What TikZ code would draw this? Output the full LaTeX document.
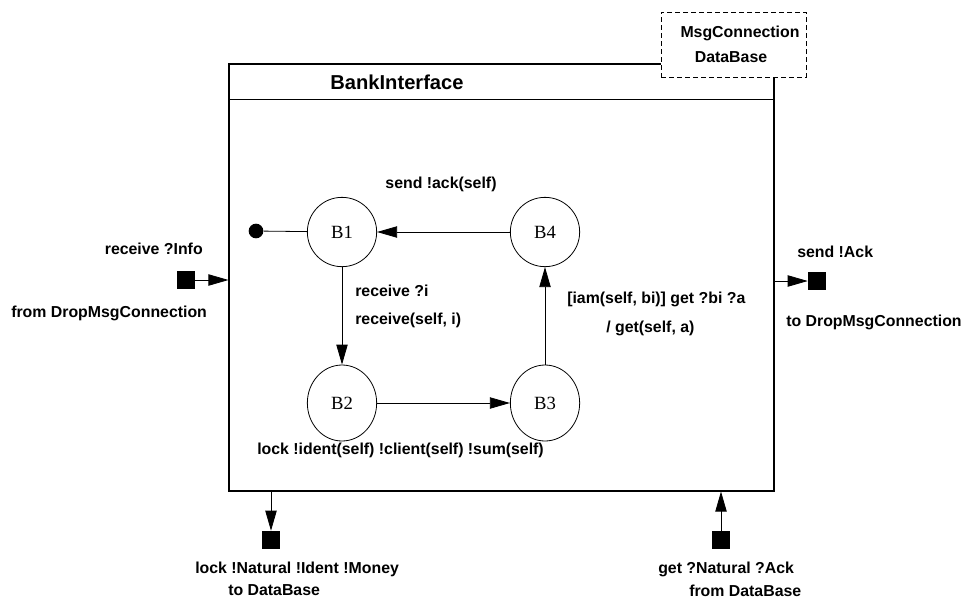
\documentclass[tikz,border=0pt]{standalone}
\usepackage{fontspec}
\setmainfont{Liberation Serif}
\setsansfont{Liberation Sans}
\usepackage{tikz}
\usetikzlibrary{arrows.meta, positioning, shapes.geometric}

\begin{document}
\begin{tikzpicture}[
  x=0.75pt, y=-0.75pt,
  state/.style={ellipse, draw, line width=0.6pt, inner sep=0pt, minimum width=52pt, minimum height=52pt, font=\fontsize{14}{16}\selectfont},
  port/.style={rectangle, fill=black, inner sep=0pt, minimum size=13.5pt},
  lbl/.style={font=\sffamily\bfseries\fontsize{11.9}{14}\selectfont, inner sep=0pt, text height=0.72em, text depth=0pt},
  arrow/.style={-{Triangle[length=15pt, width=8.5pt]}, line width=0.6pt},
  wire/.style={line width=0.6pt}
]
\useasboundingbox (0,0) rectangle (967,604);

% Component box with title bar
\node[draw, line width=0.8pt, inner sep=0pt, minimum width=408.75pt, minimum height=320.25pt] (bank) at (501.5,277.5) {};
\draw[line width=0.8pt] ([yshift=-27pt]bank.north west) -- ([yshift=-27pt]bank.north east);
\node[lbl, font=\sffamily\bfseries\fontsize{15.1}{17}\selectfont] (title) at (397,85) {BankInterface};

% Environment (dashed, covers the corner)
\node[draw, dashed, dash pattern=on 3.5pt off 2.5pt, fill=white, line width=0.6pt, minimum width=108.75pt, minimum height=48.75pt] (env) at (733.5,44.5) {};
\node[lbl] (envA) at (740,33) {MsgConnection};
\node[lbl] (envB) at (731,58) {DataBase};

% States
\node[circle, fill, inner sep=0pt, minimum size=11pt] (init) at (256,231) {};
\node[state] (B1) at (342,232) {B1};
\node[state] (B4) at (545,232) {B4};
\node[state, minimum height=57pt] (B2) at (342,403) {B2};
\node[state, minimum height=57pt] (B3) at (545,403) {B3};

% Transitions
\draw[wire] (init) -- (B1);
\draw[arrow] (B4) -- (B1);
\draw[arrow] (B1) -- (B2);
\draw[arrow] (B2) -- (B3);
\draw[arrow] (B3) -- (B4);

\node[lbl] (tA) at (441,184) {send !ack(self)};
\node[lbl, anchor=west] (tB) at (355,292) {receive ?i};
\node[lbl, anchor=west] (tC) at (355,320) {receive(self, i)};
\node[lbl, anchor=west] (tD) at (567,299) {[iam(self, bi)] get ?bi ?a};
\node[lbl, anchor=west] (tE) at (606,328) {/ get(self, a)};
\node[lbl, anchor=west] (tF) at (257,450) {lock !ident(self) !client(self) !sum(self)};

% Ports
\node[port] (pInfo) at (186,280) {};
\node[port] (pAck) at (817,281) {};
\node[port] (pLock) at (271,540) {};
\node[port] (pGet) at (721,540) {};

\draw[arrow] (pInfo) -- (pInfo -| bank.west);
\draw[arrow] (pAck -| bank.east) -- (pAck);
\draw[arrow] (pLock |- bank.south) -- (pLock);
\draw[arrow] (pGet) -- (pGet |- bank.south);

\node[lbl, anchor=east] (lInfo) at (203,250) {receive ?Info};
\node[lbl, anchor=west] (lInfoB) at (11,313) {from DropMsgConnection};
\node[lbl, anchor=west] (lAck) at (797,253) {send !Ack};
\node[lbl, anchor=west] (lAckB) at (786,322) {to DropMsgConnection};
\node[lbl, anchor=west] (lLock) at (195,569) {lock !Natural !Ident !Money};
\node[lbl, anchor=west] (lLockB) at (228,591) {to DataBase};
\node[lbl, anchor=west] (lGet) at (658,569) {get ?Natural ?Ack};
\node[lbl, anchor=west] (lGetB) at (689,592) {from DataBase};

\end{tikzpicture}
\end{document}
